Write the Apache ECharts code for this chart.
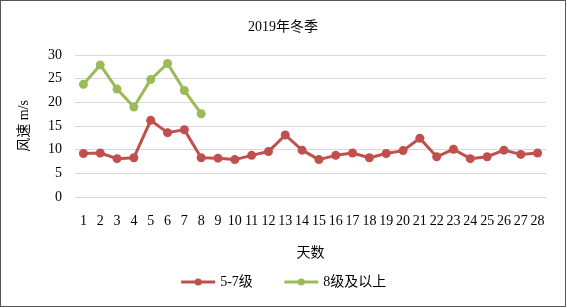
<!DOCTYPE html>
<html><head><meta charset="utf-8">
<script src="https://cdn.jsdelivr.net/npm/echarts@6/dist/echarts.min.js"></script>
<style>html,body{margin:0;padding:0;background:#fff}#c{width:566px;height:307px;box-sizing:border-box;border:1px solid #555}</style>
</head><body><div id="c"></div>
<script>
const days = ['1','2','3','4','5','6','7','8','9','10','11','12','13','14','15','16','17','18','19','20','21','22','23','24','25','26','27','28'];
const level57 = [9.2,9.3,8.1,8.3,16.2,13.6,14.2,8.3,8.2,7.9,8.8,9.6,13.1,9.9,7.9,8.8,9.3,8.3,9.2,9.8,12.4,8.5,10.1,8.1,8.5,9.9,9.0,9.3];
const level8 = [23.8,27.9,22.8,19.0,24.8,28.2,22.5,17.6];
const yTicks = [0,5,10,15,20,25,30];
const font = "'Liberation Serif','Noto Sans CJK SC',serif";
const chart = echarts.init(document.getElementById('c'));
chart.setOption({
  animation:false,
  backgroundColor:'#fff',
  title:{text:'2019年冬季',left:'center',top:14,textStyle:{fontFamily:font,fontSize:14,fontWeight:'normal',color:'#000'}},
  grid:{left:74,right:19,top:54,bottom:109},
  legend:{bottom:12,left:'center',itemWidth:34,itemHeight:9,itemGap:30,
    lineStyle:{width:3},
    textStyle:{fontFamily:font,fontSize:14,color:'#000'},
    data:['5-7级','8级及以上']},
  xAxis:{type:'category',data:days,boundaryGap:true,name:'天数',nameLocation:'middle',nameGap:49,
    nameTextStyle:{fontFamily:font,fontSize:14,color:'#000'},
    axisLine:{show:false},axisTick:{show:false},
    axisLabel:{fontFamily:font,fontSize:14,color:'#000',margin:17,interval:0}},
  yAxis:{type:'value',min:0,max:30,interval:5,name:'风速 m/s',nameLocation:'middle',nameGap:44,
    nameTextStyle:{fontFamily:font,fontSize:14,color:'#000'},
    axisLine:{show:false},axisTick:{show:false},
    axisLabel:{fontFamily:font,fontSize:14,color:'#000',margin:13,formatter:v=>yTicks.includes(v)?String(v):''},
    splitLine:{lineStyle:{color:'#d9d9d9',width:1}}},
  series:[
    {name:'5-7级',type:'line',data:level57,color:'#C0504D',symbol:'circle',symbolSize:9,lineStyle:{width:3}},
    {name:'8级及以上',type:'line',data:level8,color:'#9BBB59',symbol:'circle',symbolSize:9,lineStyle:{width:3}}
  ]
});
</script></body></html>
